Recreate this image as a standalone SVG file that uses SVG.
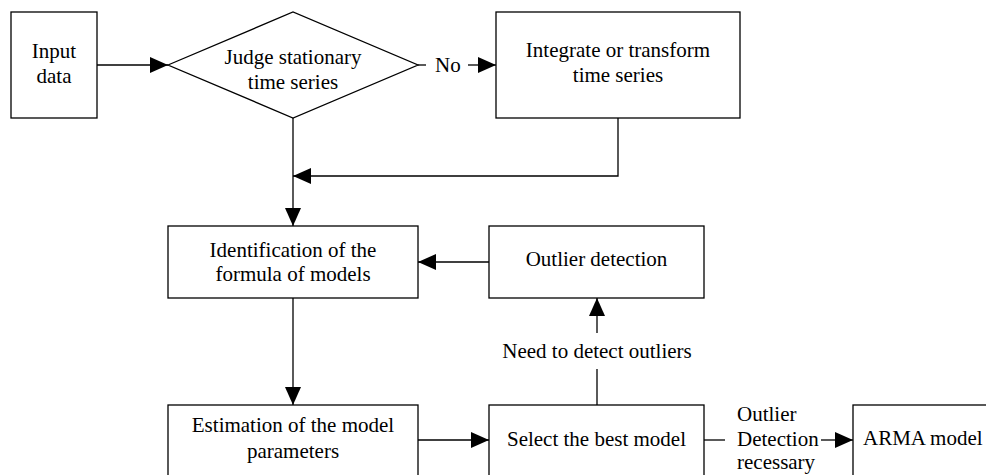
<svg xmlns="http://www.w3.org/2000/svg" width="986" height="475" viewBox="0 0 986 475">
<defs>
<style>
.box{fill:#fff;stroke:#000;stroke-width:1.3}
.ln{fill:none;stroke:#000;stroke-width:1.3}
text{font-family:"Liberation Serif","Times New Roman",serif;font-size:21px;fill:#000}
.c{text-anchor:middle}
</style>
<marker id="ah" viewBox="0 0 18 16" refX="18" refY="8" markerWidth="18" markerHeight="16" markerUnits="userSpaceOnUse" orient="auto">
<path d="M0,0 L18,8 L0,16 Z" fill="#000"/>
</marker>
</defs>
<rect width="986" height="475" fill="#fff"/>
<g id="connectors">
<line class="ln" x1="97" y1="65" x2="168" y2="65" marker-end="url(#ah)"/>
<line class="ln" x1="418" y1="65" x2="426" y2="65"/>
<line class="ln" x1="468" y1="65" x2="496" y2="65" marker-end="url(#ah)"/>
<polyline class="ln" points="618,118 618,176 293,176" marker-end="url(#ah)"/>
<line class="ln" x1="293" y1="118" x2="293" y2="226" marker-end="url(#ah)"/>
<line class="ln" x1="489" y1="262" x2="418" y2="262" marker-end="url(#ah)"/>
<line class="ln" x1="293" y1="298" x2="293" y2="405" marker-end="url(#ah)"/>
<line class="ln" x1="418" y1="440" x2="489" y2="440" marker-end="url(#ah)"/>
<line class="ln" x1="597" y1="405" x2="597" y2="369"/>
<line class="ln" x1="597" y1="333" x2="597" y2="298" marker-end="url(#ah)"/>
<line class="ln" x1="704" y1="440" x2="725" y2="440"/>
<line class="ln" x1="821" y1="440" x2="853" y2="440" marker-end="url(#ah)"/>
<text x="435" y="72">No</text>
<text class="c" x="597" y="358">Need to detect outliers</text>
<text x="737" y="421">Outlier</text>
<text x="737" y="446">Detection</text>
<text x="737" y="469">recessary</text>
</g>
<g id="input">
<rect class="box" x="11" y="12" width="86" height="106"/>
<text class="c" x="54" y="58">Input</text>
<text class="c" x="54" y="83">data</text>
</g>
<g id="judge">
<polygon class="box" points="168,65 293,12 418,65 293,118"/>
<text class="c" x="293" y="64">Judge stationary</text>
<text class="c" x="293" y="89">time series</text>
</g>
<g id="integrate">
<rect class="box" x="496" y="12" width="244" height="106"/>
<text class="c" x="618" y="57">Integrate or transform</text>
<text class="c" x="618" y="82">time series</text>
</g>
<g id="identification">
<rect class="box" x="168" y="226" width="250" height="72"/>
<text class="c" x="293" y="257">Identification of the</text>
<text class="c" x="293" y="281">formula of models</text>
</g>
<g id="outlier">
<rect class="box" x="489" y="226" width="215" height="72"/>
<text class="c" x="596.5" y="266">Outlier detection</text>
</g>
<g id="estimation">
<rect class="box" x="168" y="405" width="250" height="80"/>
<text class="c" x="293" y="432">Estimation of the model</text>
<text class="c" x="293" y="458">parameters</text>
</g>
<g id="select">
<rect class="box" x="489" y="405" width="215" height="80"/>
<text class="c" x="596.5" y="446">Select the best model</text>
</g>
<g id="arma">
<rect class="box" x="853" y="405" width="150" height="80"/>
<text x="863" y="445">ARMA model</text>
</g>
</svg>
